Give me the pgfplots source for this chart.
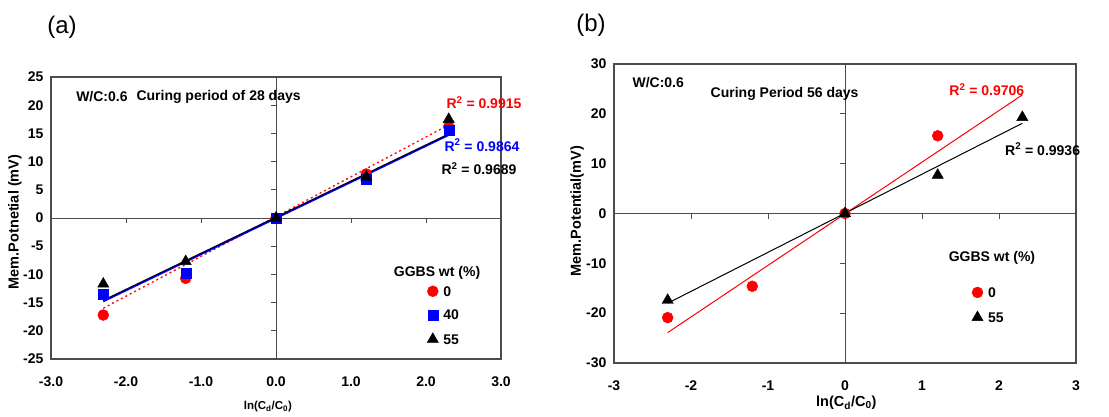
\documentclass[border=0pt]{standalone}
\usepackage{pgfplots}
\pgfplotsset{compat=1.18}
\usepackage{fontspec}
\setmainfont{Liberation Sans}
\definecolor{frame}{gray}{0.3}
\begin{document}
\begin{tikzpicture}[x=1pt,y=1pt]
\useasboundingbox (0,0) rectangle (1109,416);
\pgfplotsset{
  base/.style={scale only axis, anchor=south west, xmin=-3, xmax=3,
    /pgf/number format/assume math mode=true,
    tick label style={font=\fontsize{14}{14}\selectfont\bfseries},
    every axis label/.style={font=\fontsize{14.5}{15}\selectfont\bfseries},
    axis line style={frame, line width=1.2pt},
    major tick length=0pt,
    xticklabel style={yshift=-14pt},
    yticklabel style={xshift=-4pt},
  },
  zero/.style={scale only axis, anchor=south west, xmin=-3, xmax=3,
    axis lines=middle, axis line style={-, frame, line width=1pt},
    xticklabels={}, yticklabels={}, tick align=outside,
    major tick length=5pt, tick style={frame, line width=0.8pt},
  },
  lgd/.style={legend style={draw=none, fill=none, anchor=west,
      font=\fontsize{14}{14}\selectfont\bfseries,
      nodes={inner sep=0pt, text height=10pt, text depth=0pt},
      row sep=13pt, inner sep=0pt,
      /tikz/every odd column/.append style={column sep=5pt}},
    legend cell align=left,
    legend image code/.code={\draw[mark repeat=2,mark phase=2] plot coordinates {(0pt,0pt)(5pt,0pt)(10pt,0pt)};}},
}
% ---------------- (a) ----------------
\begin{axis}[zero, at={(51pt,57pt)}, width=450pt, height=282pt, ymin=-25, ymax=25,
  xtick={-2,-1,1,2}, ytick={-25,-20,-15,-10,-5,5,10,15,20}]
\end{axis}
\begin{axis}[base, lgd, at={(51pt,57pt)}, width=450pt, height=282pt, ymin=-25, ymax=25,
  xtick={-3,-2,...,3}, ytick={-25,-20,...,25},
  xticklabel style={/pgf/number format/.cd, fixed, fixed zerofill, precision=1},
  xlabel={ln(C\textsubscript{d}/C\textsubscript{0})},
  xlabel style={at={(axis description cs:0.482,-0.170)}, anchor=center, font=\fontsize{11.5}{12}\selectfont\bfseries},
  ylabel={Mem.Potnetial (mV)},
  ylabel style={at={(axis description cs:-0.080,0.486)}, anchor=center},
  legend style={at={(axis cs:2.013,-17.2)}},
  clip=false]
\addplot[forget plot, red, line width=1.3pt, dash pattern=on 2pt off 3pt] coordinates {(-2.303,-16.0) (2.303,16.5)};
\addplot[forget plot, blue, line width=1.6pt] coordinates {(-2.303,-14.8) (2.303,14.7)};
\addplot[forget plot, black!85!blue, line width=1.2pt] coordinates {(-2.303,-14.6) (2.303,14.9)};
\addplot[only marks, mark=*, mark size=5.5pt, red] coordinates {(-2.303,-17.2) (-1.204,-10.7) (0,0) (1.204,7.8) (2.303,16.2)};
\addlegendentry{0}
\addplot[only marks, mark=square*, mark size=5pt, blue] coordinates {(-2.303,-13.5) (-1.204,-9.8) (0,0) (1.204,6.9) (2.303,15.6)};
\addlegendentry{40}
\addplot[only marks, mark=triangle*, mark size=6.5pt, black] coordinates {(-2.303,-11.7) (-1.204,-7.7) (0,0) (1.204,7.3) (2.303,17.5)};
\addlegendentry{55}
\node[anchor=west, font=\fontsize{14}{14}\selectfont\bfseries] at (axis cs:-2.71,21.5) {W/C:0.6};
\node[anchor=west, font=\fontsize{14}{14}\selectfont\bfseries] at (axis cs:-1.907,21.5) {Curing period of 28 days};
\node[anchor=west, red, font=\fontsize{14}{14}\selectfont\bfseries] at (axis cs:2.227,20.4) {R\textsuperscript{2} = 0.9915};
\node[anchor=west, blue, font=\fontsize{14}{14}\selectfont\bfseries] at (axis cs:2.2,12.9) {R\textsuperscript{2} = 0.9864};
\node[anchor=west, black, font=\fontsize{14}{14}\selectfont\bfseries] at (axis cs:2.16,8.7) {R\textsuperscript{2} = 0.9689};
\node[anchor=center, font=\fontsize{14}{14}\selectfont\bfseries] at (axis cs:2.147,-9.75) {GGBS wt (\%)};
\end{axis}
% ---------------- (b) ----------------
\begin{axis}[zero, at={(614pt,53pt)}, width=462pt, height=299pt, ymin=-30, ymax=30,
  xtick={-2,-1,1,2}, ytick={-20,-10,10,20}]
\end{axis}
\begin{axis}[base, lgd, at={(614pt,53pt)}, width=462pt, height=299pt, ymin=-30, ymax=30,
  xtick={-3,-2,...,3}, ytick={-30,-20,...,30},
  xlabel={ln(C\textsubscript{d}/C\textsubscript{0})},
  xlabel style={at={(axis description cs:0.503,-0.134)}, anchor=center},
  ylabel={Mem.Potential(mV)},
  ylabel style={at={(axis description cs:-0.080,0.508)}, anchor=center},
  legend style={at={(axis cs:1.645,-18.3)}},
  clip=false]
\addplot[forget plot, red, line width=1pt] coordinates {(-2.303,-23.9) (2.303,23.8)};
\addplot[forget plot, black, line width=1pt] coordinates {(-2.303,-18.0) (2.303,18.1)};
\addplot[only marks, mark=*, mark size=5.5pt, red] coordinates {(-2.303,-20.9) (-1.204,-14.6) (0,0) (1.204,15.6)};
\addlegendentry{0}
\addplot[only marks, mark=triangle*, mark size=6.5pt, black] coordinates {(-2.303,-17.4) (0,0) (1.204,7.7) (2.303,19.3)};
\addlegendentry{55}
\node[anchor=west, font=\fontsize{14}{14}\selectfont\bfseries] at (axis cs:-2.805,26.2) {W/C:0.6};
\node[anchor=west, font=\fontsize{14}{14}\selectfont\bfseries] at (axis cs:-1.79,24.0) {Curing Period 56 days};
\node[anchor=west, red, font=\fontsize{14}{14}\selectfont\bfseries] at (axis cs:1.31,24.9) {R\textsuperscript{2} = 0.9706};
\node[anchor=west, black, font=\fontsize{14}{14}\selectfont\bfseries] at (axis cs:2.035,12.9) {R\textsuperscript{2} = 0.9936};
\node[anchor=center, font=\fontsize{14}{14}\selectfont\bfseries] at (axis cs:1.909,-8.93) {GGBS wt (\%)};
\end{axis}
\node[font=\fontsize{24}{24}\selectfont] at (62,389) {(a)};
\node[font=\fontsize{24}{24}\selectfont] at (591,391) {(b)};
\end{tikzpicture}
\end{document}
